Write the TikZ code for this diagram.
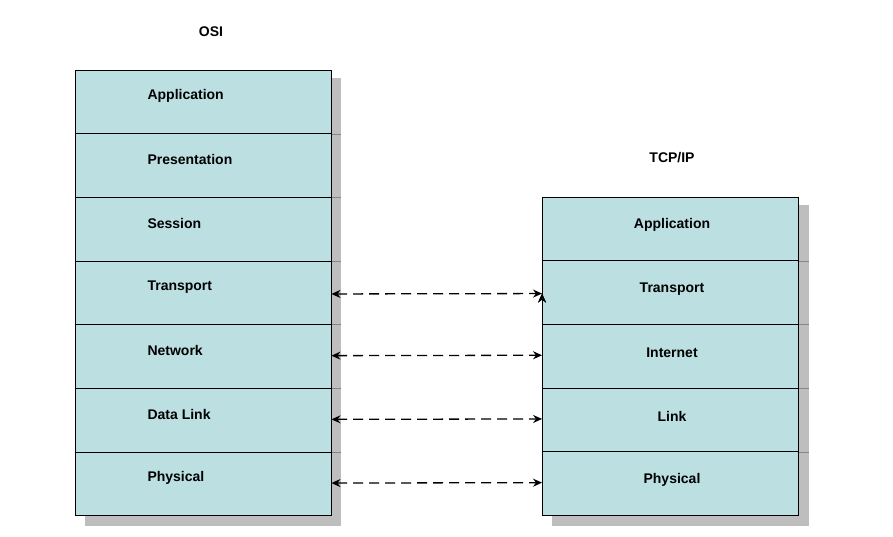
\documentclass[tikz,border=0pt]{standalone}
\usepackage{fontspec}
\setmainfont{Liberation Sans}
\usetikzlibrary{arrows.meta}
\definecolor{cellc}{HTML}{BCE0E2}
\definecolor{shad}{HTML}{BEBEBE}
\begin{document}
\begin{tikzpicture}[x=1pt,y=-1pt,
  cell/.style={draw=black,fill=cellc,line width=0.9pt,minimum width=256pt,minimum height=63.7pt,inner sep=0pt},
  lbl/.style={font=\bfseries\fontsize{14}{16}\selectfont},
  link/.style={dashed,dash pattern=on 10pt off 6pt,line width=1.3pt,{Stealth[length=9pt,width=8pt]}-{Stealth[length=9pt,width=8pt]}}]
\useasboundingbox (0,0) rectangle (893,536);
\fill[shad] (85,78) rectangle (341,526);
\fill[shad] (552,205) rectangle (809,526);
\foreach \y in {134,197,261,324,388,452} \draw[shad!70!black,line width=0.5pt] (331,\y) -- (341,\y);
\foreach \y in {261,324,388,452} \draw[shad!70!black,line width=0.5pt] (799,\y) -- (809,\y);
\node[lbl] (osi) at (211,32) {OSI};
\node[lbl] (tcp) at (672,158) {TCP/IP};
\foreach \n/\t/\i in {o1/Application/0,o2/Presentation/1,o3/Session/2,o4/Transport/3,o5/Network/4,o6/Data Link/5,o7/Physical/6}{
  \node[cell] (\n) at (203,70+31.85+63.7*\i) {};
  \node[lbl,anchor=west] at (144,70+26+63.7*\i) {\t};
}
\foreach \n/\t/\i in {t1/Application/0,t2/Transport/1,t3/Internet/2,t4/Link/3,t5/Physical/4}{
  \node[cell] (\n) at (670.5,197+31.85+63.7*\i) {};
  \node[lbl] at (672,197+28+63.7*\i) {\t};
}
\draw[link] (o4.east) ++(0,1) coordinate (a1) (t2.west) ++(0,1) coordinate (b1);
\draw[link] (a1) -- (b1);
\draw[link] ([yshift=1pt]o5.east) -- ([yshift=1pt]t3.west);
\draw[link] ([yshift=1pt]o6.east) -- ([yshift=1pt]t4.west);
\draw[link] ([yshift=1pt]o7.east) -- ([yshift=1pt]t5.west);
\end{tikzpicture}
\end{document}
